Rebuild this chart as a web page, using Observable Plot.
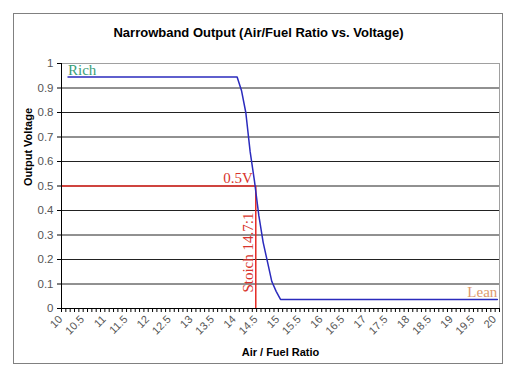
<!DOCTYPE html>
<html><head><meta charset="utf-8">
<script src="https://cdn.jsdelivr.net/npm/d3@7"></script>
<script src="https://cdn.jsdelivr.net/npm/@observablehq/plot@0.6"></script>
<style>
body{margin:0;background:#fff;}
#wrap{position:relative;width:515px;height:375px;overflow:hidden;}
#border{position:absolute;left:13px;top:13px;width:490px;height:351px;border:1px solid #808080;box-sizing:border-box;}
#chart{position:absolute;left:0;top:0;}
</style></head><body>
<div id="wrap"><div id="border"></div><div id="chart"></div></div>
<script>
// data
const ratio   = [10.1, 14.0, 14.1, 14.2, 14.3, 14.4, 14.5, 14.6, 14.7, 14.8, 14.9, 15.0, 20.0];
const voltage = [0.945, 0.945, 0.89, 0.80, 0.64, 0.52, 0.38, 0.27, 0.19, 0.11, 0.07, 0.037, 0.037];
const stoich = 14.43;      // where the red vertical line is drawn
const halfVolt = 0.5;
const yTicks = [0, 0.1, 0.2, 0.3, 0.4, 0.5, 0.6, 0.7, 0.8, 0.9, 1];
const xLabels = [10,10.5,11,11.5,12,12.5,13,13.5,14,14.5,15,15.5,16,16.5,17,17.5,18,18.5,19,19.5,20];
const xMinor = d3.range(0, 102).map(i => +(9.95 + i * 0.1).toFixed(2));
const titleText = "Narrowband Output (Air/Fuel Ratio vs. Voltage)";
const xTitle = "Air / Fuel Ratio";
const yTitle = "Output Voltage";

const data = ratio.map((r, i) => ({ratio: r, voltage: voltage[i]}));
const xMin = 9.95, xMax = 20.05;
const serif = "'Liberation Serif', 'Times New Roman', serif";

const chart = Plot.plot({
  width: 515,
  height: 375,
  marginLeft: 61,
  marginRight: 16,
  marginTop: 63,
  marginBottom: 67,
  style: {fontFamily: "'Liberation Sans', Arial, sans-serif", background: "transparent"},
  x: {domain: [xMin, xMax], label: null},
  y: {domain: [0, 1], label: null},
  marks: [
    Plot.ruleY(yTicks.filter(d => d > 0 && d < 1), {stroke: "#222", strokeWidth: 1}),
    Plot.ruleY([1], {stroke: "#a0a0a0", strokeWidth: 1}),
    Plot.ruleX([xMax], {stroke: "#a0a0a0", strokeWidth: 1}),
    Plot.axisY({ticks: yTicks, tickSize: 4, tickPadding: 4, fontSize: 11.5, stroke: "#000", fill: "#555", tickFormat: d => String(d), label: null}),
    Plot.axisX({ticks: xMinor, tickSize: 4, tickFormat: () => "", stroke: "#000", label: null}),
    Plot.axisX({ticks: xLabels, tickSize: 0, tickPadding: 9, tickRotate: -45, fontSize: 11, fill: "#555", tickFormat: d => String(d), label: null, dx: -3}),
    Plot.ruleY([halfVolt], {x1: xMin, x2: stoich, stroke: "#e52b25", strokeWidth: 1.5}),
    Plot.ruleX([stoich], {y1: 0, y2: halfVolt, stroke: "#e52b25", strokeWidth: 1.5}),
    Plot.ruleX([xMin], {stroke: "#000", strokeWidth: 1}),
    Plot.ruleY([0], {stroke: "#000", strokeWidth: 1}),
    Plot.line(data, {x: "ratio", y: "voltage", stroke: "#2b2bbd", strokeWidth: 1.5}),
    Plot.text(["Rich"], {x: 10.1, y: 0.955, text: d => d, textAnchor: "start", lineAnchor: "bottom", fontFamily: serif, fontSize: 15, fill: "#3a9e78"}),
    Plot.text(["Lean"], {x: 20.0, y: 0.045, text: d => d, textAnchor: "end", lineAnchor: "bottom", fontFamily: serif, fontSize: 15, fill: "#dd9a6c"}),
    Plot.text(["0.5V"], {x: stoich, y: halfVolt, dx: -3, dy: -3, text: d => d, textAnchor: "end", lineAnchor: "bottom", fontFamily: serif, fontSize: 15, fill: "#d8342c"}),
    Plot.text(["Stoich 14.7:1"], {x: stoich, y: 0.065, dx: -3, text: d => d, rotate: -90, textAnchor: "start", lineAnchor: "bottom", fontFamily: serif, fontSize: 15, fill: "#d8342c"}),
    Plot.text([titleText], {frameAnchor: "top", dx: -22, dy: -31, text: d => d, fontSize: 13, fontWeight: "bold", fill: "#000", lineAnchor: "middle"}),
    Plot.text([xTitle], {frameAnchor: "bottom", dy: 44, text: d => d, fontSize: 11, fontWeight: "bold", fill: "#000", lineAnchor: "middle"}),
    Plot.text([yTitle], {frameAnchor: "left", dx: -33, rotate: -90, text: d => d, fontSize: 11, fontWeight: "bold", fill: "#000", lineAnchor: "middle"})
  ]
});
document.getElementById("chart").appendChild(chart);
</script>
</body></html>
